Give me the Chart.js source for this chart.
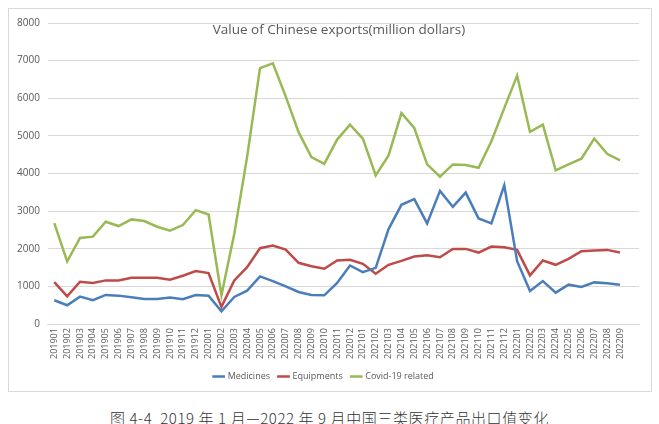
<!DOCTYPE html>
<html>
<head>
<meta charset="utf-8">
<script src="https://cdn.jsdelivr.net/npm/chart.js@4"></script>
<style>
    body { margin: 0; background: #fff; font-family: "Open Sans", sans-serif; }
    #box { position: absolute; left: 8px; top: 8px; width: 642px; height: 382px; border: 1px solid #d9d9d9; background: #fff; }
    #title { position: absolute; left: 9px; width: 100%; top: 11px; text-align: center; font-size: 13.5px; color: #595959; pointer-events: none; }
    #caption { position: absolute; left: 0; width: 659px; top: 407px; text-align: center; font-family: "Noto Sans CJK SC", serif; font-weight: 300; font-size: 15px; letter-spacing: 0.6px; color: #333; white-space: nowrap; }
</style>
</head>
<body>
<div id="box">
    <canvas id="chart"></canvas>
    <div id="title">Value of Chinese exports(million dollars)</div>
</div>
<div id="caption">图 4-4&nbsp; 2019 年 1 月—2022 年 9 月中国三类医疗产品出口值变化</div>
<script>
const months = [
    "201901","201902","201903","201904","201905","201906","201907","201908","201909","201910","201911","201912",
    "202001","202002","202003","202004","202005","202006","202007","202008","202009","202010","202011","202012",
    "202101","202102","202103","202104","202105","202106","202107","202108","202109","202110","202111","202112",
    "202201","202202","202203","202204","202205","202206","202207","202208","202209"
];

const medicines = [
    634, 502, 731, 634, 775, 757, 713, 669, 669, 704, 660, 775,
    757, 343, 722, 889, 1268, 1144, 1004, 854, 775, 766, 1092, 1558,
    1382, 1496, 2526, 3169, 3319, 2676, 3539, 3116, 3495, 2808, 2676, 3688,
    1673, 880, 1144, 836, 1048, 986, 1109, 1083, 1048
];

const equipments = [
    1118, 739, 1127, 1092, 1162, 1162, 1232, 1232, 1232, 1180, 1285, 1408,
    1356, 458, 1162, 1514, 2016, 2086, 1981, 1629, 1540, 1470, 1690, 1708,
    1602, 1338, 1576, 1681, 1796, 1831, 1778, 1998, 1998, 1901, 2060, 2042,
    1972, 1294, 1690, 1576, 1734, 1937, 1954, 1972, 1901
];

const covidRelated = [
    2685, 1664, 2289, 2324, 2720, 2606, 2782, 2738, 2588, 2482, 2632, 3028,
    2914, 766, 2400, 4450, 6800, 6928, 6050, 5100, 4437, 4260, 4903, 5299,
    4930, 3952, 4481, 5607, 5211, 4243, 3917, 4243, 4225, 4155, 4859, 5739,
    6602, 5106, 5299, 4085, 4243, 4393, 4930, 4525, 4349
];

const yTicks = [0, 1000, 2000, 3000, 4000, 5000, 6000, 7000, 8000];

const textColor = "#595959";
const gridColor = "#d9d9d9";

// month index on a linear x axis, so the plot can run a little past the last month like the original
function lineSet(label, values, color) {
    return {
        label: label,
        data: values.map((v, i) => ({ x: i, y: v })),
        borderColor: color,
        backgroundColor: color,
        borderWidth: 2.5,
        pointRadius: 0,
        tension: 0,
        fill: false
    };
}

new Chart(document.getElementById("chart").getContext("2d"), {
    type: "line",
    data: {
        datasets: [
            lineSet("Medicines", medicines, "#4a7ebb"),
            lineSet("Equipments", equipments, "#be4b48"),
            lineSet("Covid-19 related", covidRelated, "#98b954")
        ]
    },
    options: {
        responsive: true,
        maintainAspectRatio: false,
        animation: false,
        layout: { padding: { left: 0, right: 12, top: 8, bottom: 0 } },
        plugins: {
            title: { display: false },
            tooltip: { enabled: false },
            legend: {
                position: "bottom",
                labels: {
                    usePointStyle: true,
                    pointStyle: "line",
                    boxWidth: 22,
                    color: textColor,
                    font: { size: 9, family: "'Open Sans', sans-serif" },
                    padding: 9
                }
            }
        },
        scales: {
            x: {
                type: "linear",
                min: -0.5,
                max: months.length + 0.48,
                afterBuildTicks: axis => { axis.ticks = months.map((m, i) => ({ value: i })); },
                grid: { display: false, drawTicks: false },
                border: { color: gridColor },
                ticks: {
                    autoSkip: false,
                    minRotation: 90,
                    maxRotation: 90,
                    color: textColor,
                    padding: 4,
                    callback: v => months[v],
                    font: { size: 9, family: "'Open Sans', sans-serif" }
                }
            },
            y: {
                min: 0,
                max: 8000,
                afterBuildTicks: axis => { axis.ticks = yTicks.map(v => ({ value: v })); },
                grid: { color: gridColor, drawTicks: false },
                border: { display: false },
                ticks: {
                    color: textColor,
                    padding: 8,
                    callback: v => String(v),
                    font: { size: 10, family: "'Open Sans', sans-serif" }
                }
            }
        }
    }
});
</script>
</body>
</html>
